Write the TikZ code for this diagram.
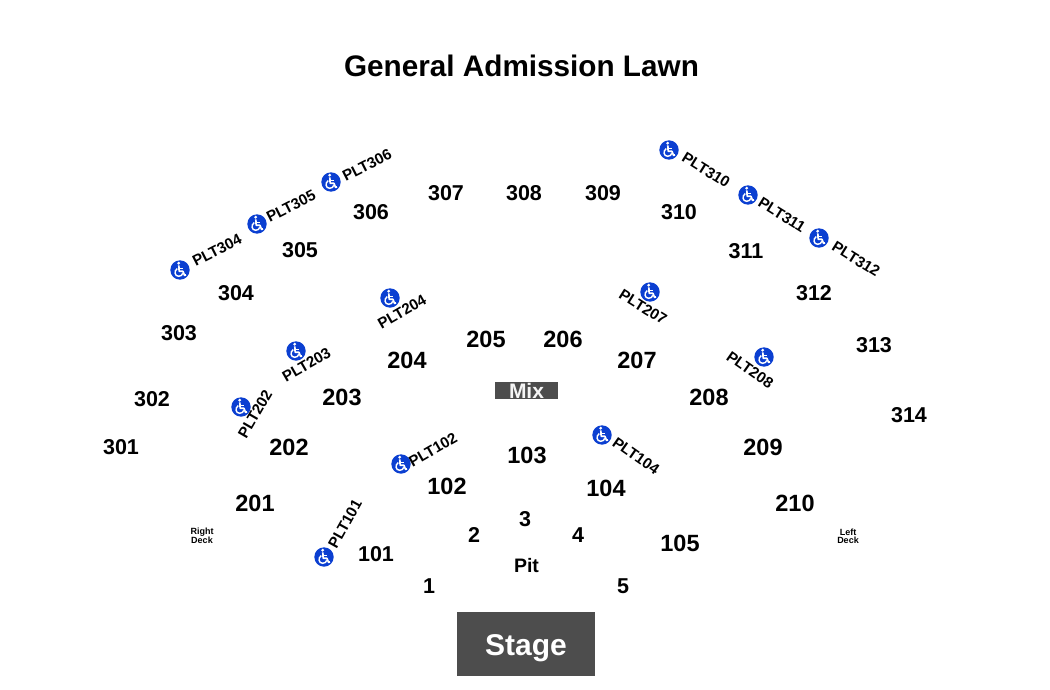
\documentclass[tikz,border=0pt]{standalone}
\usepackage{fontspec}
\setmainfont{Liberation Sans}
\definecolor{wcblue}{HTML}{0B3FD1}
\definecolor{blockgray}{HTML}{4D4D4D}
\tikzset{
 x=1pt,y=-1pt,
 every node/.style={font=\bfseries,text=black,inner sep=0pt,outer sep=0pt},
 sec/.style={font=\fontsize{21.5}{21.5}\selectfont\bfseries},
 secb/.style={font=\fontsize{23.5}{23.5}\selectfont\bfseries},
 plt/.style={font=\fontsize{15.2}{15.2}\selectfont\bfseries},
 tiny deck/.style={font=\fontsize{9}{8}\selectfont\bfseries,align=center},
 wc/.pic={
  \fill[wcblue] (0,0) circle[radius=9.7];
  \fill[white] (-1.3,-6.8) circle[radius=1.55];
  \draw[white,line width=1.7pt,line join=round] (-1.2,-4.6) -- (-0.8,1.3) -- (2.9,1.3) -- (4.6,5.4) -- (6,4.8);
  \draw[white,line width=1.3pt] (-1,-1.6) -- (2.8,-1.6);
  \draw[white,line width=1.4pt] (-2.7,-1.4) .. controls (-6.3,0.8) and (-5.4,6.4) .. (-1.3,6.3) .. controls (0.8,6.3) and (2.3,5.1) .. (2.8,3.3);
 }
}
\begin{document}
\begin{tikzpicture}
\useasboundingbox (0,0) rectangle (1050,690);
\node[font=\fontsize{29.7}{30}\selectfont\bfseries] (title) at (521.5,66) {General Admission Lawn};
\fill[blockgray] (495,382) rectangle (558,399);
\node[font=\fontsize{21}{21}\selectfont\bfseries,text=white!92!gray] (mix) at (526.5,391) {Mix};
\fill[blockgray] (457,612) rectangle (595,676);
\node[font=\fontsize{30}{30}\selectfont\bfseries,text=white] (stage) at (526,648.5) {Stage};
\node[font=\fontsize{19.5}{20}\selectfont\bfseries] (pit) at (526.5,565.5) {Pit};
\foreach \t/\x/\y in {301/121/447,302/152/399,303/179/333,304/236/293,305/300/250,306/371/212,307/446/193,308/524/193,309/603/193,310/679/212,311/746/251,312/814/293,313/874/345,314/909/415,101/376/554,1/429/586,2/474/535,3/525/519,4/578/535,5/623/586}
  \node[sec] (s\t) at (\x,\y) {\t};
\foreach \t/\x/\y in {201/255/503,202/289/447,203/342/397,204/407/360,205/486/339,206/563/339,207/637/360,208/709/397,209/763/447,210/795/503,102/447/486,103/527/455,104/606/488,105/680/543}
  \node[secb] (s\t) at (\x,\y) {\t};
\node[tiny deck] (rdeck) at (202,536) {Right\\Deck};
\node[tiny deck] (ldeck) at (848,536) {Left\\Deck};
\foreach \n/\x/\y/\r/\ix/\iy in {
 306/367/165/27/331/182, 305/291/206/27/257/224, 304/217/250/27/180/270,
 310/706/170/-32/669/150, 311/782/215/-32/748/195, 312/856/259/-32/819/238,
 204/402/312/30/390/298, 207/643/307/-32/650/292, 203/306.5/365/30/296/351,
 208/750/370/-35/764/357, 202/255/414/60/241/407, 102/433/450/30/401/464,
 104/636/456/-35/602/435, 101/345/524/61/324/557}{
  \node[plt,rotate=\r] (p\n) at (\x,\y) {PLT\n};
  \pic at (\ix,\iy) {wc};
}
\end{tikzpicture}
\end{document}
